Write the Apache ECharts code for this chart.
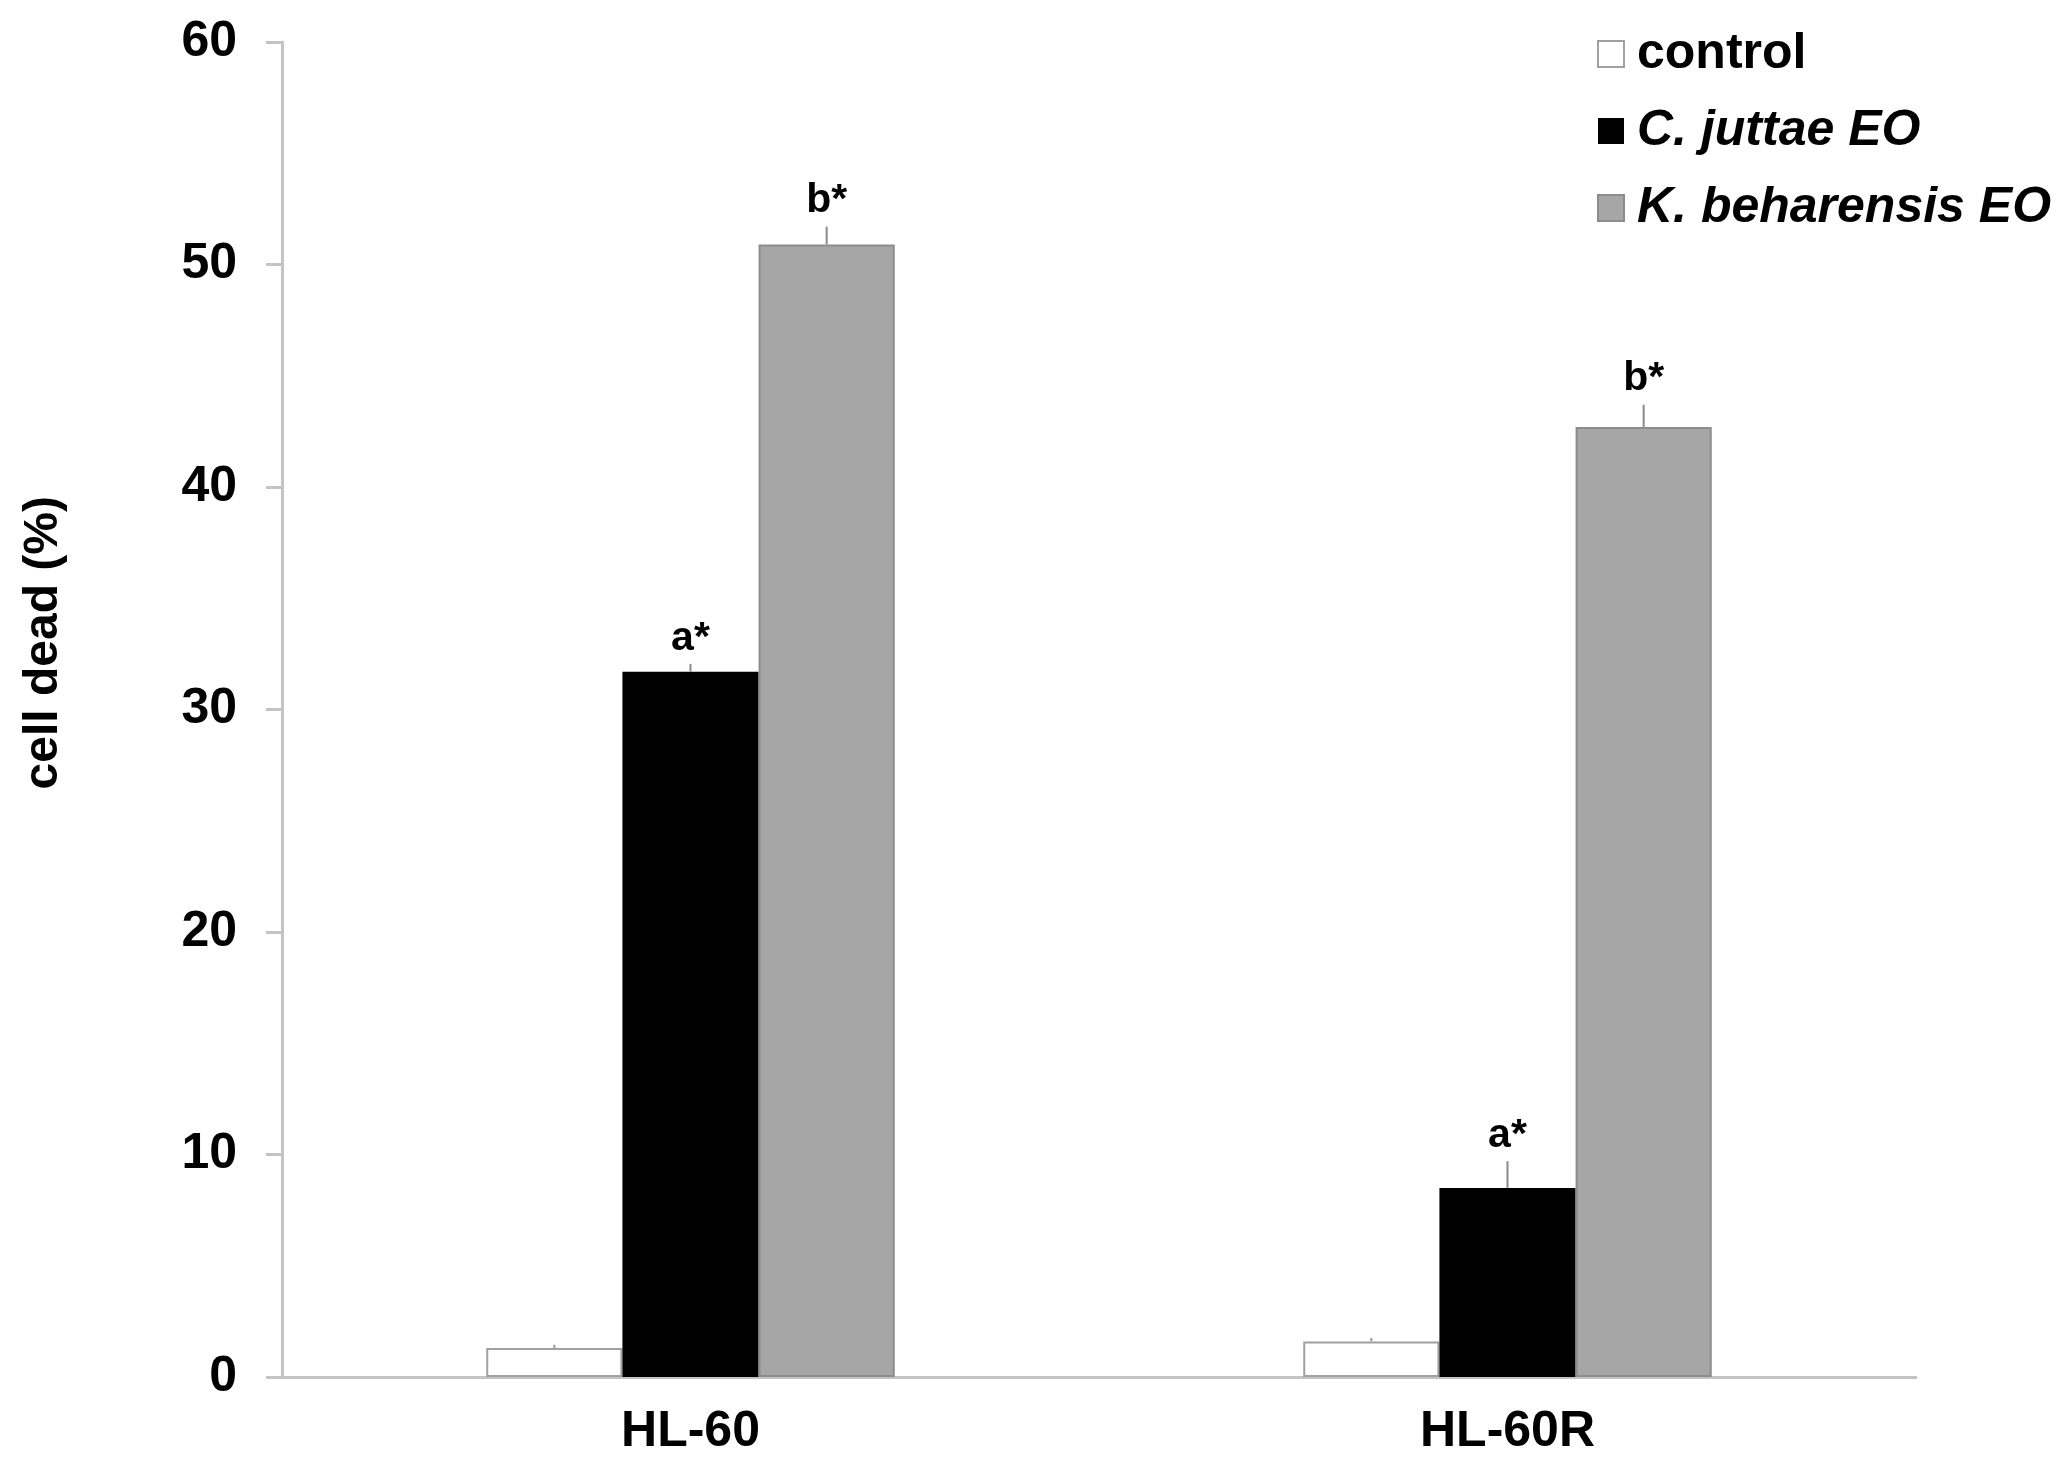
<!DOCTYPE html>
<html>
<head>
    <meta charset="utf-8">
    <title>cell dead</title>
    <script src="https://cdn.jsdelivr.net/npm/echarts@6/dist/echarts.min.js"></script>
    <style>
        html, body { margin: 0; padding: 0; background: #fff; }
    </style>
</head>
<body>
    <div id="main" style="width: 2068px;height:1472px;"></div>
    <script type="text/javascript">
        // data
        var categories = ['HL-60', 'HL-60R'];
        var seriesNames = ['control', 'C. juttae EO', 'K. beharensis EO'];
        var controlValues = [1.3, 1.6];
        var juttaeValues = [31.7, 8.5];
        var beharensisValues = [50.9, 42.7];
        var controlErrors = [0.15, 0.15];
        var juttaeErrors = [0.35, 1.2];
        var beharensisErrors = [0.8, 1.0];
        var controlMarks = ['', ''];
        var juttaeMarks = ['a*', 'a*'];
        var beharensisMarks = ['b*', 'b*'];
        var yMin = 0, yMax = 60, yStep = 10;

        var font = 'Liberation Sans, Arial, sans-serif';
        var myChart = echarts.init(document.getElementById('main'));

        // error bar + significance letter, drawn on the bar's slot
        function errorSeries(slot, values, errors, marks, color) {
            var data = [];
            for (var i = 0; i < categories.length; i++) {
                data.push([i, values[i], errors[i], marks[i]]);
            }
            return {
                type: 'custom',
                z: 5,
                silent: true,
                data: data,
                renderItem: function (params, api) {
                    var cat = api.value(0);
                    var v = api.value(1);
                    var e = api.value(2);
                    var band = api.size([1, 0])[0];
                    var bw = band * 0.5 / 3;
                    var dx = (slot - 1) * bw;
                    var base = api.coord([cat, v]);
                    var top = api.coord([cat, v + e]);
                    var x = base[0] + dx;
                    return {
                        type: 'group',
                        children: [{
                            type: 'line',
                            shape: { x1: x, y1: base[1], x2: x, y2: top[1] },
                            style: { stroke: color, lineWidth: 2 }
                        }, {
                            type: 'text',
                            x: x,
                            y: top[1] - 5,
                            style: {
                                text: data[params.dataIndex][3],
                                align: 'center',
                                verticalAlign: 'bottom',
                                fontFamily: font,
                                fontWeight: 'bold',
                                fontSize: 41,
                                fill: '#000'
                            }
                        }]
                    };
                }
            };
        }

        var option = {
            animation: false,
            backgroundColor: '#fff',
            grid: { left: 282, right: 152, top: 42, bottom: 95 },
            legend: {
                orient: 'vertical',
                left: 1597,
                top: 29,
                padding: 0,
                itemWidth: 26,
                itemHeight: 26,
                itemGap: 27,
                icon: 'rect',
                textStyle: {
                    fontFamily: font, fontWeight: 'bold', fontSize: 50,
                    color: '#000', lineHeight: 50, padding: [0, 0, 0, 8]
                },
                data: [
                    { name: seriesNames[0] },
                    { name: seriesNames[1], textStyle: { fontStyle: 'italic' } },
                    { name: seriesNames[2], textStyle: { fontStyle: 'italic' } }
                ]
            },
            xAxis: {
                type: 'category',
                data: categories,
                axisLine: { lineStyle: { color: '#c4c4c4', width: 3 } },
                axisTick: { show: false },
                axisLabel: {
                    margin: 30, color: '#000',
                    fontFamily: font, fontWeight: 'bold', fontSize: 50
                }
            },
            yAxis: {
                type: 'value',
                min: yMin, max: yMax, interval: yStep,
                splitLine: { show: false },
                axisLine: { show: true, lineStyle: { color: '#c4c4c4', width: 3 } },
                axisTick: { show: true, length: 16, lineStyle: { color: '#c4c4c4', width: 3 } },
                axisLabel: {
                    margin: 45, color: '#000',
                    fontFamily: font, fontWeight: 'bold', fontSize: 50
                }
            },
            graphic: [{
                type: 'text',
                left: 20,
                top: 496,
                rotation: Math.PI / 2,
                style: {
                    text: 'cell dead (%)',
                    fontFamily: font, fontWeight: 'bold', fontSize: 48, fill: '#000'
                }
            }],
            series: [{
                name: seriesNames[0],
                type: 'bar',
                barGap: 0,
                barCategoryGap: '50%',
                itemStyle: { color: '#ffffff', borderColor: '#a0a0a0', borderWidth: 2 },
                data: controlValues
            }, {
                name: seriesNames[1],
                type: 'bar',
                barGap: 0,
                barCategoryGap: '50%',
                itemStyle: { color: '#000000' },
                data: juttaeValues
            }, {
                name: seriesNames[2],
                type: 'bar',
                barGap: 0,
                barCategoryGap: '50%',
                itemStyle: { color: '#a6a6a6', borderColor: '#8c8c8c', borderWidth: 2 },
                data: beharensisValues
            },
                errorSeries(0, controlValues, controlErrors, controlMarks, '#999999'),
                errorSeries(1, juttaeValues, juttaeErrors, juttaeMarks, '#888888'),
                errorSeries(2, beharensisValues, beharensisErrors, beharensisMarks, '#888888')
            ]
        };

        myChart.setOption(option);
    </script>
</body>
</html>
